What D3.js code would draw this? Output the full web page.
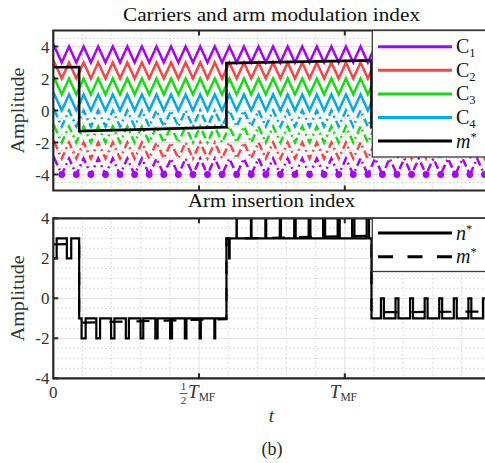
<!DOCTYPE html>
<html>
<head>
<meta charset="utf-8">
<script src="https://cdn.jsdelivr.net/npm/d3@7"></script>
<style>
  body { margin: 0; background: #fff; }
  svg { font-family: "Liberation Serif", "DejaVu Serif", serif; }
</style>
</head>
<body>
<svg id="chart" width="485" height="463"></svg>
<script>
// time in units of T_MF
// carrier vertices (peaks / valleys)
const carrierPeakT = [0.004, 0.054, 0.104, 0.154, 0.204, 0.254, 0.304, 0.354, 0.404, 0.454,
    0.504, 0.554, 0.604, 0.654, 0.704, 0.754, 0.804, 0.854, 0.904, 0.954,
    1.004, 1.054, 1.104, 1.154, 1.204, 1.254, 1.304, 1.354, 1.404, 1.454, 1.504];
const carrierValleyT = [-0.021, 0.029, 0.079, 0.129, 0.179, 0.229, 0.279, 0.329, 0.379, 0.429,
    0.479, 0.529, 0.579, 0.629, 0.679, 0.729, 0.779, 0.829, 0.879, 0.929,
    0.979, 1.029, 1.079, 1.129, 1.179, 1.229, 1.279, 1.329, 1.379, 1.429, 1.479, 1.529];
const carrierNames = ["1", "2", "3", "4"];
const carrierColors = ["#aa00ff", "#ff4242", "#10e010", "#00aaee"];
const upperBands = [3, 2, 1, 0];
const lowerBands = [-4, -3, -2, -1];

// arm modulation index m*
const mTopT = [0, 0.0888, 0.0888, 0.594, 0.594, 1.0915, 1.0915, 1.5];
const mTopV = [2.7, 2.72, -1.29, -1.04, 2.96, 3.13, -1.04, -1.0];
const mBotT = [0, 0.0888, 0.0888, 0.594, 0.594, 1.0915, 1.0915, 1.5];
const mBotV = [2.7, 2.72, -1.22, -1.04, 2.98, 3.13, -0.7, -0.66];

// arm insertion index n* (step after)
const nT = [0, 0.0115, 0.0465, 0.0615,
    0.0888, 0.097, 0.111, 0.1476, 0.1604, 0.1982, 0.2098, 0.2488, 0.2592, 0.2994, 0.3086,
    0.3501, 0.3579, 0.4007, 0.4073, 0.4513, 0.4567, 0.5019, 0.5061, 0.5525, 0.5555,
    0.594, 0.603, 0.605, 0.6285, 0.6295, 0.678, 0.680, 0.7275, 0.7305, 0.777, 0.781,
    0.8265, 0.8315, 0.876, 0.882, 0.9255, 0.9325, 0.9755, 0.9825, 1.025, 1.033, 1.075, 1.083,
    1.0915, 1.124, 1.134, 1.174, 1.184, 1.224, 1.234, 1.274, 1.284, 1.324, 1.334,
    1.374, 1.384, 1.424, 1.434, 1.474, 1.484, 1.5];
const nV = [2, 3, 2, 3,
    -1, -2, -1, -2, -1, -2, -1, -2, -1, -2, -1,
    -2, -1, -2, -1, -2, -1, -2, -1, -2, -1,
    3, 2, 3, 4, 3, 4, 3, 4, 3, 4, 3,
    4, 3, 4, 3, 4, 3, 4, 3, 4, 3, 4, 3,
    -1, 0, -1, 0, -1, 0, -1, 0, -1, 0, -1,
    0, -1, 0, -1, 0, -1, -1];

const yTicks = [-4, -2, 0, 2, 4];
const xMajor = [0.5, 1];

const svg = d3.select("#chart");
const x = d3.scaleLinear().domain([0, 1.5]).range([53.3, 53.3 + 1.5 * 291.5]);
const axisColor = "#262626";
const zip = (ts, vs) => ts.map((t, i) => [t, vs[i]]);

function makePanel(id, top, bottom, yDomain, minorCount) {
    const y = d3.scaleLinear().domain(yDomain).range([bottom, top]);
    const g = svg.append("g");
    svg.append("clipPath").attr("id", id)
        .append("rect")
        .attr("x", x(0)).attr("y", top)
        .attr("width", x(1.5) - x(0)).attr("height", bottom - top);

    // minor grid (dotted)
    g.append("g").selectAll("line")
        .data(y.ticks(minorCount).filter(v => !yTicks.includes(v)))
        .join("line")
        .attr("x1", x(0)).attr("x2", x(1.5))
        .attr("y1", d => y(d)).attr("y2", d => y(d))
        .attr("stroke", "#b4b4b4").attr("stroke-width", 0.9).attr("stroke-dasharray", "1,3");
    g.append("g").selectAll("line")
        .data(x.ticks(15).filter(v => v > 0 && !xMajor.includes(v)))
        .join("line")
        .attr("x1", d => x(d)).attr("x2", d => x(d))
        .attr("y1", top).attr("y2", bottom)
        .attr("stroke", "#b4b4b4").attr("stroke-width", 0.9).attr("stroke-dasharray", "1,3");

    // major grid
    g.append("g").selectAll("line")
        .data(yTicks)
        .join("line")
        .attr("x1", x(0)).attr("x2", x(1.5))
        .attr("y1", d => y(d)).attr("y2", d => y(d))
        .attr("stroke", "#e2e2e2").attr("stroke-width", 1);
    g.append("g").selectAll("line")
        .data(xMajor)
        .join("line")
        .attr("x1", d => x(d)).attr("x2", d => x(d))
        .attr("y1", top).attr("y2", bottom)
        .attr("stroke", "#e2e2e2").attr("stroke-width", 1);

    const plot = svg.append("g").attr("clip-path", `url(#${id})`);
    return { y, g, plot, top, bottom };
}

function drawFrame(p) {
    const f = svg.append("g");
    f.append("path")
        .attr("d", `M${x(1.5)},${p.top}H${x(0)}V${p.bottom}H${x(1.5)}`)
        .attr("fill", "none").attr("stroke", axisColor).attr("stroke-width", 2.2);
    f.selectAll(".yt").data(yTicks).join("line")
        .attr("x1", x(0)).attr("x2", x(0) + 5)
        .attr("y1", d => p.y(d)).attr("y2", d => p.y(d))
        .attr("stroke", axisColor).attr("stroke-width", 2);
    xMajor.forEach(t => {
        f.append("line").attr("x1", x(t)).attr("x2", x(t))
            .attr("y1", p.bottom).attr("y2", p.bottom - 5)
            .attr("stroke", axisColor).attr("stroke-width", 2);
        f.append("line").attr("x1", x(t)).attr("x2", x(t))
            .attr("y1", p.top).attr("y2", p.top + 5)
            .attr("stroke", axisColor).attr("stroke-width", 2);
    });
    f.selectAll(".yl").data(yTicks).join("text")
        .attr("x", 49.5).attr("y", d => p.y(d) + 6)
        .attr("text-anchor", "end").attr("font-size", 17).attr("fill", "#333")
        .text(d => d);
    f.append("text")
        .attr("transform", `translate(24, ${(p.top + p.bottom) / 2}) rotate(-90)`)
        .attr("text-anchor", "middle").attr("font-size", 19).attr("fill", "#333")
        .attr("textLength", 86).attr("lengthAdjust", "spacingAndGlyphs")
        .text("Amplitude");
}

function drawLegend(top, bottom, items) {
    const lg = svg.append("g");
    lg.append("rect")
        .attr("x", 372.3).attr("y", top).attr("width", 130).attr("height", bottom - top)
        .attr("fill", "#fff").attr("stroke", "#3a3a3a").attr("stroke-width", 1.3);
    items.forEach(it => {
        lg.append("line")
            .attr("x1", 378).attr("x2", 452).attr("y1", it.y).attr("y2", it.y)
            .attr("stroke", it.color).attr("stroke-width", 3)
            .attr("stroke-dasharray", it.dash || null);
        const tx = lg.append("text").attr("x", 456).attr("y", it.y + 6.5)
            .attr("font-size", 20).attr("fill", "#111");
        tx.append("tspan").attr("font-style", it.italic ? "italic" : null).text(it.main);
        tx.append("tspan").attr("font-size", 12.5)
            .attr("dy", it.sup ? -7 : 4).text(it.sub);
    });
}

// ---- top panel: carriers and m*
const topP = makePanel("clipTop", 30.5, 190.5, [-5, 5], 20);
const lineTop = d3.line().x(d => x(d[0])).y(d => topP.y(d[1]));
const carrierPts = band => carrierPeakT.map(t => [t, band + 1])
    .concat(carrierValleyT.map(t => [t, band]))
    .sort((a, b) => a[0] - b[0]);

carrierNames.forEach((c, i) => {
    topP.plot.append("path")
        .attr("d", lineTop(carrierPts(upperBands[i])))
        .attr("fill", "none").attr("stroke", carrierColors[i]).attr("stroke-width", 2.5)
        .attr("stroke-linejoin", "miter");
    topP.plot.append("path")
        .attr("d", lineTop(carrierPts(lowerBands[i])))
        .attr("fill", "none").attr("stroke", carrierColors[i]).attr("stroke-width", 2.5)
        .attr("stroke-dasharray", "8,3.5,2,3.5");
});
topP.plot.selectAll(".mk").data(carrierValleyT).join("circle")
    .attr("cx", d => x(d)).attr("cy", topP.y(lowerBands[0]))
    .attr("r", 3.4).attr("fill", carrierColors[0]);

topP.plot.append("path")
    .attr("d", lineTop(zip(mTopT, mTopV)))
    .attr("fill", "none").attr("stroke", "#000").attr("stroke-width", 2.6);

drawFrame(topP);
drawLegend(30.5, 157, carrierNames.map((c, i) => ({
    y: 46.7 + i * 23.6, color: carrierColors[i], main: "C", sub: c
})).concat([{ y: 141, color: "#000", main: "m", sub: "*", italic: true, sup: true }]));

svg.append("text")
    .attr("x", 271.5).attr("y", 21).attr("text-anchor", "middle")
    .attr("font-size", 19).attr("fill", "#111")
    .attr("textLength", 297).attr("lengthAdjust", "spacingAndGlyphs")
    .text("Carriers and arm modulation index");

// ---- bottom panel: n* and m*
const botP = makePanel("clipBot", 218.3, 378.3, [-4, 4], 16);
const lineBot = d3.line().x(d => x(d[0])).y(d => botP.y(d[1]));

botP.plot.append("path")
    .attr("d", lineBot.curve(d3.curveStepAfter)(zip(nT, nV)))
    .attr("fill", "none").attr("stroke", "#000").attr("stroke-width", 2.2);
botP.plot.append("path")
    .attr("d", lineBot.curve(d3.curveLinear)(zip(mBotT, mBotV)))
    .attr("fill", "none").attr("stroke", "#000").attr("stroke-width", 2.2)
    .attr("stroke-dasharray", "13,14");

drawFrame(botP);
drawLegend(218.3, 271.5, [
    { y: 233, color: "#000", main: "n", sub: "*", italic: true, sup: true },
    { y: 256.7, color: "#000", main: "m", sub: "*", italic: true, sup: true, dash: "15,14.5" }
]);

svg.append("text")
    .attr("x", 271.5).attr("y", 207).attr("text-anchor", "middle")
    .attr("font-size", 19).attr("fill", "#111")
    .attr("textLength", 167).attr("lengthAdjust", "spacingAndGlyphs")
    .text("Arm insertion index");

// x tick labels (bottom panel only)
const xl = svg.append("g").attr("fill", "#333");
xl.append("text").attr("x", x(0)).attr("y", 398).attr("text-anchor", "middle")
    .attr("font-size", 17).text("0");
const xh = x(0.5);
xl.append("text").attr("x", xh - 15.5).attr("y", 390).attr("text-anchor", "middle")
    .attr("font-size", 11).text("1");
xl.append("line").attr("x1", xh - 19.5).attr("x2", xh - 11.5).attr("y1", 393.5).attr("y2", 393.5)
    .attr("stroke", "#333").attr("stroke-width", 0.8);
xl.append("text").attr("x", xh - 15.5).attr("y", 404).attr("text-anchor", "middle")
    .attr("font-size", 11).text("2");
[[xh - 11, 0.5], [x(1) - 15, 1]].forEach(([px]) => {
    const t = xl.append("text").attr("x", px).attr("y", 398).attr("font-size", 19);
    t.append("tspan").attr("font-style", "italic").text("T");
    t.append("tspan").attr("font-size", 11.5).attr("dy", 3).text("MF");
});
xl.append("text").attr("x", 271.5).attr("y", 422).attr("text-anchor", "middle")
    .attr("font-size", 19).attr("font-style", "italic").text("t");
svg.append("text").attr("x", 272).attr("y", 455).attr("text-anchor", "middle")
    .attr("font-size", 18).attr("fill", "#222").text("(b)");
</script>
</body>
</html>
